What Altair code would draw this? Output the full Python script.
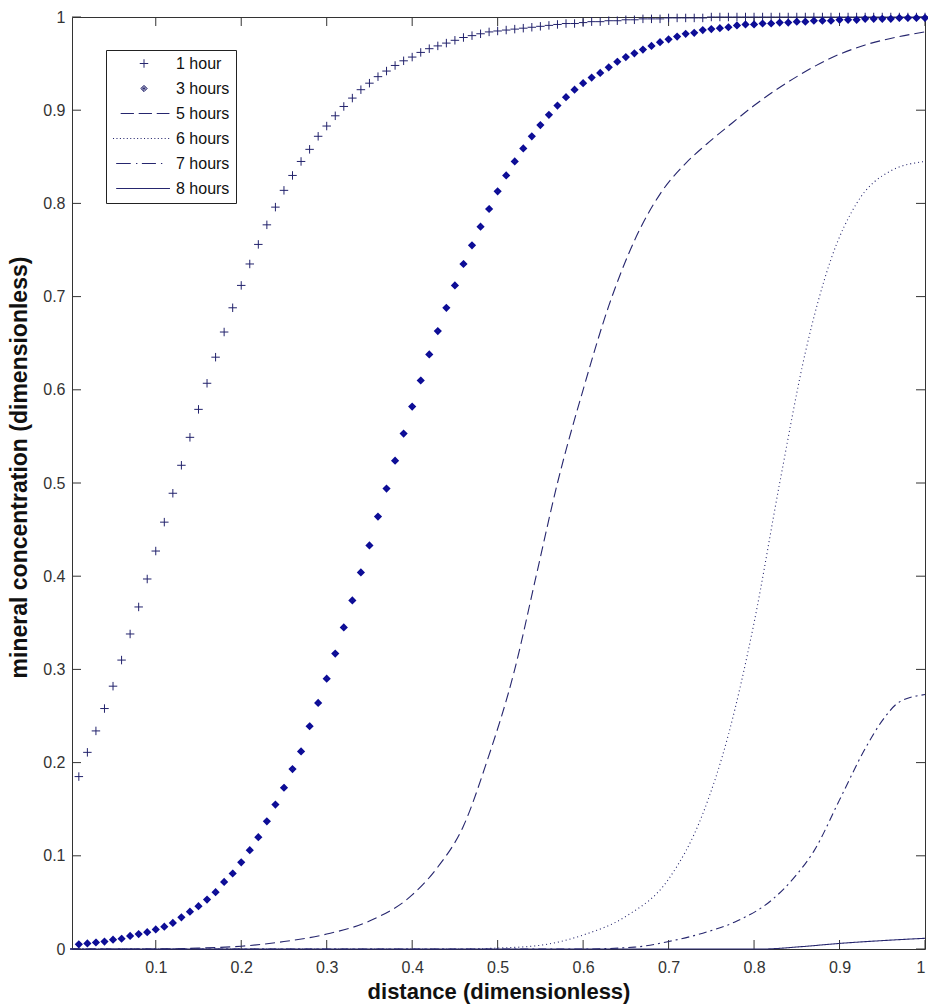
import altair as alt
import pandas as pd

# ---------------- data ----------------
DIST = [round(0.01 * k, 2) for k in range(1, 101)]

ONE_HOUR = [
    0.185, 0.211, 0.234, 0.258, 0.282, 0.310, 0.338, 0.367, 0.397, 0.427,
    0.458, 0.489, 0.519, 0.549, 0.579, 0.607, 0.635, 0.662, 0.688, 0.712,
    0.735, 0.756, 0.777, 0.796, 0.814, 0.830, 0.845, 0.858, 0.872, 0.883,
    0.894, 0.904, 0.913, 0.922, 0.929, 0.936, 0.942, 0.948, 0.953, 0.957,
    0.962, 0.966, 0.969, 0.972, 0.975, 0.978, 0.980, 0.982, 0.984, 0.985,
    0.986, 0.987, 0.988, 0.989, 0.990, 0.991, 0.992, 0.993, 0.993, 0.994,
    0.995, 0.995, 0.996, 0.996, 0.997, 0.997, 0.998, 0.998, 0.998, 0.999,
    0.999, 0.999, 0.999, 0.999, 1.000, 1.000, 1.000, 1.000, 1.000, 1.000,
    1.000, 1.000, 1.000, 1.000, 1.000, 1.000, 1.000, 1.000, 1.000, 1.000,
    1.000, 1.000, 1.000, 1.000, 1.000, 1.000, 1.000, 1.000, 1.000, 1.000,
]

THREE_HOURS = [
    0.005, 0.006, 0.007, 0.008, 0.010, 0.011, 0.014, 0.016, 0.018, 0.021,
    0.024, 0.028, 0.034, 0.040, 0.046, 0.053, 0.061, 0.072, 0.081, 0.093,
    0.106, 0.120, 0.137, 0.155, 0.173, 0.193, 0.212, 0.239, 0.264, 0.290,
    0.317, 0.345, 0.374, 0.404, 0.433, 0.464, 0.494, 0.524, 0.553, 0.582,
    0.610, 0.638, 0.663, 0.688, 0.712, 0.735, 0.755, 0.775, 0.794, 0.813,
    0.830, 0.845, 0.859, 0.872, 0.884, 0.895, 0.905, 0.914, 0.922, 0.929,
    0.935, 0.940, 0.946, 0.952, 0.957, 0.961, 0.965, 0.969, 0.973, 0.976,
    0.979, 0.982, 0.983, 0.986, 0.987, 0.988, 0.989, 0.991, 0.992, 0.992,
    0.993, 0.993, 0.994, 0.994, 0.995, 0.995, 0.996, 0.996, 0.996, 0.997,
    0.997, 0.997, 0.998, 0.998, 0.998, 0.998, 0.999, 0.999, 0.999, 0.999,
]

FIVE_X = [0.0, 0.10, 0.15, 0.20, 0.25, 0.30, 0.35, 0.40, 0.43, 0.46, 0.487, 0.52, 0.545,
          0.57, 0.60, 0.63, 0.66, 0.69, 0.72, 0.745, 0.77, 0.80, 0.85, 0.89, 0.93, 0.97, 1.00]
FIVE_Y = [0.0, 0.0, 0.001, 0.003, 0.008, 0.016, 0.030, 0.058, 0.088, 0.132, 0.200, 0.300,
          0.400, 0.500, 0.600, 0.690, 0.760, 0.810, 0.843, 0.864, 0.883, 0.905, 0.936,
          0.956, 0.970, 0.979, 0.984]

SIX_X = [0.0, 0.45, 0.50, 0.55, 0.60, 0.65, 0.70, 0.74, 0.77, 0.80, 0.83, 0.86,
         0.89, 0.92, 0.96, 1.00]
SIX_Y = [0.0, 0.0, 0.001, 0.004, 0.015, 0.035, 0.075, 0.145, 0.230, 0.350, 0.500, 0.640,
         0.740, 0.800, 0.835, 0.845]

SEVEN_X = [0.0, 0.60, 0.66, 0.70, 0.74, 0.78, 0.82, 0.85, 0.87, 0.90, 0.93,
           0.95, 0.97, 1.00]
SEVEN_Y = [0.0, 0.0, 0.002, 0.008, 0.017, 0.030, 0.052, 0.080, 0.105, 0.160, 0.215,
           0.245, 0.265, 0.273]

EIGHT_X = [0.0, 0.81, 0.855, 0.90, 0.95, 1.00]
EIGHT_Y = [0.0, 0.0, 0.0025, 0.006, 0.009, 0.0115]

SERIES = ["1 hour", "3 hours", "5 hours", "6 hours", "7 hours", "8 hours"]
XTICKS = [0.1, 0.2, 0.3, 0.4, 0.5, 0.6, 0.7, 0.8, 0.9, 1.0]
YTICKS = [0.0, 0.1, 0.2, 0.3, 0.4, 0.5, 0.6, 0.7, 0.8, 0.9, 1.0]

# ---------------- tables ----------------
plus_df = pd.DataFrame({"x": DIST, "y": ONE_HOUR, "series": "1 hour"})
diam_df = pd.DataFrame({"x": DIST, "y": THREE_HOURS, "series": "3 hours"})
line_rows = []
for name, xs, ys in [("5 hours", FIVE_X, FIVE_Y), ("6 hours", SIX_X, SIX_Y),
                     ("7 hours", SEVEN_X, SEVEN_Y), ("8 hours", EIGHT_X, EIGHT_Y)]:
    for a, b in zip(xs, ys):
        line_rows.append({"x": a, "y": b, "series": name})
lines_df = pd.DataFrame(line_rows)
xtick_df = pd.DataFrame({"v": XTICKS})
ytick_df = pd.DataFrame({"v": YTICKS})

# ---------------- styles ----------------
W, H = 853, 932
TL = 9  # inward tick length
FONT = "Liberation Sans"
PLUS_C = "#22226c"
DIAM_C = "#0c0c96"
LINE_C = "#26266e"
AX_C = "#333333"

PLUS_PATH = "M-0.16,0L0.16,0M0,-0.16L0,0.16"
DIAMOND_PATH = ("M0,-0.12L0.12,0L0,0.12L-0.12,0Z"
                "M0,-0.075L0.075,0L0,0.075L-0.075,0Z"
                "M-0.035,0L0.035,0M0,-0.035L0,0.035")
DASH_PATH = "M-0.88,0L-0.38,0M-0.2,0L0.3,0M0.48,0L0.96,0"
DOT_PATH = "".join("M%.2f,0L%.2f,0" % (-1.3 + 0.13 * i, -1.3 + 0.13 * i + 0.04) for i in range(18))
DASHDOT_PATH = "M-1.05,0L-0.5,0M-0.3,0L-0.25,0M-0.08,0L0.45,0M0.64,0L0.69,0"
SOLID_PATH = "M-1.05,0L0.98,0"
PATHS = [PLUS_PATH, DIAMOND_PATH, DASH_PATH, DOT_PATH, DASHDOT_PATH, SOLID_PATH]

xscale = alt.Scale(domain=[0.002, 1.0], nice=False, zero=False)
yscale = alt.Scale(domain=[0.0, 1.0], nice=False, zero=False)

legend = alt.Legend(
    orient="none", legendX=34, legendY=33, title=None,
    strokeColor="#222222", fillColor="white", padding=6, cornerRadius=0,
    clipHeight=15, rowPadding=8, symbolOffset=5, labelOffset=5,
    labelFont=FONT, labelFontSize=16, labelColor="#111111",
    symbolSize=2809, symbolStrokeWidth=1, symbolStrokeColor=LINE_C,
)
shape_enc = alt.Shape("series:N", scale=alt.Scale(domain=SERIES, range=PATHS), legend=legend)

x_axis = alt.Axis(
    orient="bottom", values=XTICKS, ticks=False, tickSize=0, domain=False, grid=False,
    format="~g", labelFont=FONT, labelFontSize=16, labelColor=AX_C, labelPadding=10,
    title="distance (dimensionless)", titleFont=FONT, titleFontSize=22,
    titleFontWeight="bold", titleColor="#111111", titleX=W / 2, titleY=42,
    titleBaseline="middle",
)
y_axis = alt.Axis(
    orient="left", values=YTICKS, ticks=False, tickSize=0, domain=False, grid=False,
    format="~g", labelFont=FONT, labelFontSize=16, labelColor=AX_C, labelPadding=7,
    title="mineral concentration (dimensionless)", titleFont=FONT, titleFontSize=23,
    titleFontWeight="bold", titleColor="#111111", titleAngle=270, titleX=-53,
    titleY=450, titleBaseline="middle",
)

lines = alt.Chart(lines_df).mark_line(color=LINE_C, interpolate="monotone").encode(
    x=alt.X("x:Q", scale=xscale, axis=x_axis),
    y=alt.Y("y:Q", scale=yscale, axis=y_axis),
    strokeDash=alt.StrokeDash(
        "series:N",
        scale=alt.Scale(domain=SERIES[2:], range=[[10, 5], [1, 3], [8, 4, 2, 4], [1, 0]]),
        legend=None,
    ),
    strokeWidth=alt.StrokeWidth(
        "series:N", scale=alt.Scale(domain=SERIES[2:], range=[1.1, 1.1, 1.1, 2.2]), legend=None,
    ),
    detail="series:N",
)

plus = alt.Chart(plus_df).mark_point(filled=False, size=2809, strokeWidth=1,
                                      color=PLUS_C, opacity=1).encode(
    x=alt.X("x:Q", scale=xscale),
    y=alt.Y("y:Q", scale=yscale),
    shape=shape_enc,
)

diam = alt.Chart(diam_df).mark_point(filled=False, size=2809, strokeWidth=1.3,
                                      color=DIAM_C, opacity=1).encode(
    x=alt.X("x:Q", scale=xscale),
    y=alt.Y("y:Q", scale=yscale),
    shape=shape_enc,
)

# inward tick marks on all four sides (MATLAB box style), positioned by the scales
tick_style = dict(color=AX_C, strokeWidth=1)
xt = alt.Chart(xtick_df)
yt = alt.Chart(ytick_df)
ticks_bottom = xt.mark_rule(**tick_style).encode(
    x=alt.X("v:Q", scale=xscale), y=alt.value(H), y2=alt.value(H - TL))
ticks_top = xt.mark_rule(**tick_style).encode(
    x=alt.X("v:Q", scale=xscale), y=alt.value(0), y2=alt.value(TL))
ticks_left = yt.mark_rule(**tick_style).encode(
    y=alt.Y("v:Q", scale=yscale), x=alt.value(0), x2=alt.value(TL))
ticks_right = yt.mark_rule(**tick_style).encode(
    y=alt.Y("v:Q", scale=yscale), x=alt.value(W - TL), x2=alt.value(W))

chart = (
    alt.layer(ticks_bottom, ticks_top, ticks_left, ticks_right, lines, plus, diam)
    .properties(
        width=W, height=H,
        autosize=alt.AutoSizeParams(type="none"),
        padding={"left": 72, "top": 17, "right": 3, "bottom": 59},
        background="white",
    )
    .configure_view(stroke=AX_C, strokeWidth=1)
)

chart.save("out.html", embed_options={"renderer": "svg", "actions": False})
